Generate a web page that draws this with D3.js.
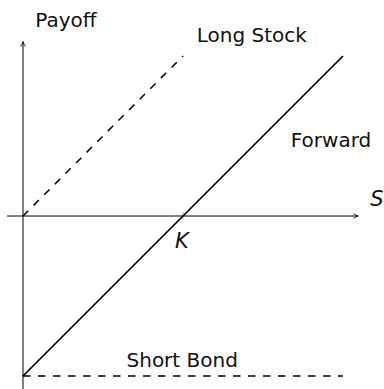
<!DOCTYPE html>
<html lang="en">

<head>
    <meta charset="UTF-8" />
    <title>Payoff of a Forward</title>

    <script src="https://d3js.org/d3.v7.min.js"></script>

    <style>
        * {
            margin: 0;
            padding: 0;
            box-sizing: border-box;
        }

        body {
            background-color: #fff;
        }

        svg text {
            font-family: "DejaVu Sans", sans-serif;
            fill: #111;
        }
    </style>
</head>

<body>

    <svg width="384" height="389"></svg>

    <script>
        // Strike and the underlying price grid (S in units of K)
        var strike = 1;
        var stockPrices = [0, 1, 2];

        // Payoffs at each price in stockPrices
        var longStock = [0, 1];          // only drawn up to S = K
        var forward = [-1, 0, 1];        // S - K
        var shortBond = [-1, -1, -1];    // -K

        // Text labels, placed in data units
        var seriesLabels = [
            { text: "Long Stock", s: 1.43, p: 1.085 },
            { text: "Forward", s: 1.925, p: 0.43 },
            { text: "Short Bond", s: 0.995, p: -0.945 }
        ];

        var svgWidth = 384;
        var svgHeight = 389;

        var svg = d3.select("svg");

        // Scales: one unit of S and of payoff are the same length
        var xScale = d3.scaleLinear()
            .domain([0, 2])
            .range([23, 343]);

        var yScale = d3.scaleLinear()
            .domain([-1, 1])
            .range([376, 56]);

        // Arrow head for the axes
        svg.append("defs").append("marker")
            .attr("id", "arrow")
            .attr("viewBox", "0 0 10 10")
            .attr("refX", 9)
            .attr("refY", 5)
            .attr("markerWidth", 6)
            .attr("markerHeight", 6)
            .attr("markerUnits", "userSpaceOnUse")
            .attr("orient", "auto")
            .append("path")
            .attr("d", "M1,1 Q5,4 9,5 Q5,6 1,9")
            .attr("fill", "none")
            .attr("stroke", "#000")
            .attr("stroke-width", 1.4);

        // x-axis (S)
        svg.append("line")
            .attr("x1", xScale(-0.1))
            .attr("y1", yScale(0))
            .attr("x2", xScale(2.095))
            .attr("y2", yScale(0))
            .attr("stroke", "#000")
            .attr("stroke-width", 1)
            .attr("marker-end", "url(#arrow)");

        // y-axis (Payoff)
        svg.append("line")
            .attr("x1", xScale(0))
            .attr("y1", svgHeight + 2)
            .attr("x2", xScale(0))
            .attr("y2", yScale(1.09))
            .attr("stroke", "#000")
            .attr("stroke-width", 1)
            .attr("marker-end", "url(#arrow)");

        // small grey tick at the strike
        svg.append("line")
            .attr("x1", xScale(strike))
            .attr("y1", yScale(0) - 4)
            .attr("x2", xScale(strike))
            .attr("y2", yScale(0) + 4)
            .attr("stroke", "#bbb")
            .attr("stroke-width", 1);

        var line = d3.line()
            .x(function(d) { return xScale(d[0]); })
            .y(function(d) { return yScale(d[1]); });

        // Long stock (dashed)
        svg.append("path")
            .datum(d3.zip(stockPrices.slice(0, longStock.length), longStock))
            .attr("d", line)
            .attr("fill", "none")
            .attr("stroke", "#000")
            .attr("stroke-width", 1.5)
            .attr("stroke-dasharray", "7.5,7.5");

        // Short bond (dashed)
        svg.append("path")
            .datum(d3.zip(stockPrices, shortBond))
            .attr("d", line)
            .attr("fill", "none")
            .attr("stroke", "#000")
            .attr("stroke-width", 1.5)
            .attr("stroke-dasharray", "7.5,7.5");

        // Forward (solid)
        svg.append("path")
            .datum(d3.zip(stockPrices, forward))
            .attr("d", line)
            .attr("fill", "none")
            .attr("stroke", "#000")
            .attr("stroke-width", 1.7);

        // Series labels
        svg.selectAll("text.series")
            .data(seriesLabels)
            .enter()
            .append("text")
            .attr("class", "series")
            .attr("x", function(d) { return xScale(d.s); })
            .attr("y", function(d) { return yScale(d.p); })
            .attr("text-anchor", "middle")
            .attr("font-size", "20px")
            .text(function(d) { return d.text; });

        // Axis labels
        svg.append("text")
            .attr("x", 66)
            .attr("y", 27)
            .attr("text-anchor", "middle")
            .attr("font-size", "20px")
            .text("Payoff");

        svg.append("text")
            .attr("x", 377)
            .attr("y", 206)
            .attr("text-anchor", "middle")
            .attr("font-size", "21px")
            .attr("font-style", "italic")
            .text("S");

        svg.append("text")
            .attr("x", xScale(strike) - 1)
            .attr("y", yScale(0) + 32)
            .attr("text-anchor", "middle")
            .attr("font-size", "21px")
            .attr("font-style", "italic")
            .text("K");
    </script>

</body>

</html>
